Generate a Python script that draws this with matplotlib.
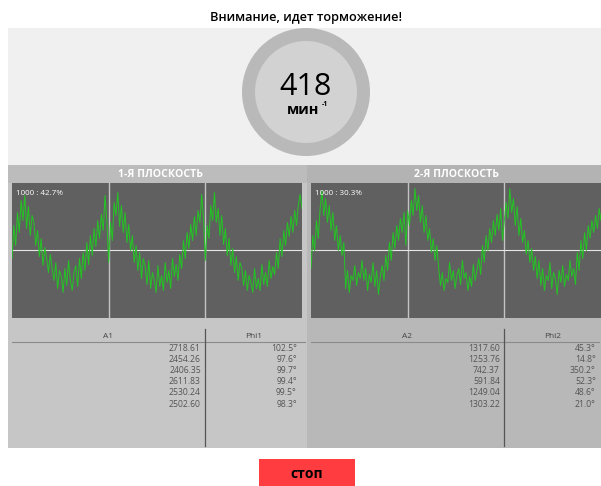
import matplotlib
matplotlib.use("Agg")
import matplotlib.pyplot as plt
from matplotlib.patches import Rectangle, Circle

plt.rcParams['font.family'] = ['Open Sans', 'DejaVu Sans']

W, H = 601, 486

title = "Внимание, идет торможение!"
speed = "418"
speed_unit = "мин"
plane_titles = ["1-Я ПЛОСКОСТЬ", "2-Я ПЛОСКОСТЬ"]
scale_labels = ["1000 : 42.7%", "1000 : 30.3%"]
col_amp = ["A1", "A2"]
col_phi = ["Phi1", "Phi2"]

amp1 = ["2718.61", "2454.26", "2406.35", "2611.83", "2530.24", "2502.60"]
phi1 = ["102.5°", "97.6°", "99.7°", "99.4°", "99.5°", "98.3°"]
amp2 = ["1317.60", "1253.76", "742.37", "591.84", "1249.04", "1303.22"]
phi2 = ["45.3°", "14.8°", "350.2°", "52.3°", "48.6°", "21.0°"]

# signal samples (pixel offset from centre line, up = +)
signal1 = [-8, 25, 5, 38, 18, 50, 30, 55, 22, 44, 15, 35, 28,
           5, 20, -6, 12, -15, 3, -8, -22, -4, -18,
           -30, -12, -38, -20, -26, -42, -18, -35, -10, -30, -40, -22, -15, -36, -8, -28,
           -2, -20, 8, -14, 15, -5, 22, 4, 30, 12, 36, 20,
           55, 30, -12,
           28, 10, 48, 35, 58, 24, 45, 18, 38, 8, 26,
           0, 15, -12, 5, -20, -2, -28, -8, -16, -34, -10,
           -38, -22, -30, -42, -15, -36, -25, -40, -12, -32, -20, -38, -8, -26, -14, -30,
           -4, -18, 10, -8, 18, 2, 26, 10, 34, 15, 40, 28,
           56, 32, -10,
           25, 12, 45, 30, 58, 28, 42, 15, 35, 6, 22,
           -5, 12, -15, 2, -22, -6, -30, -12, -18, -35, -20,
           -40, -25, -32, -42, -18, -38, -28, -40, -14, -34, -22, -36, -10, -28, -16, -24,
           -2, -18, 12, -6, 20, 5, 28, 14, 34, 18, 40, 25, 46, 56, 42]
signal2 = [-18, 15, 0, 30, 12, 42, 60, 35, 52, 28, 45, 20, 38,
           10, 25, 0, 15, -5, 8,
           -38, -20, -42, -25, -30, -15, -35, -22, -28, -10, -30, -18, -40, -24, -32, -12,
           -36, -20, -44, -26, -15, -30,
           -5, -20, 8, -10, 18, 2, 25, 10, 32, 18, 38,
           5, 40,
           25, 50, 35, 62, 40, 55, 28, 45, 18, 35, 10,
           22, -2, 12, -10, 5, -18,
           -35, -22, -40, -28, -32, -12, -30, -20, -38, -25, -18, -34, -10, -28, -22, -40,
           -26, -36, -14, -30, -20, -8,
           -24, 5, -12, 15, 0, 22, 8, 30, 15, 36, 20,
           42, 10,
           30, 48, 32, 62, 38, 52, 25, 44, 15, 32, 8,
           20, -4, 10, -12, 2, -20, -6, -28, -10,
           -35, -18, -40, -25, -30, -12, -38, -22, -28, -44, -20, -32, -15, -36, -24, -30,
           -10, -26, -18, -34,
           -2, -20, 10, -8, 18, 0, 25, 12, 30, 18, 35, 22, 42, 30]

fig = plt.figure(figsize=(W / 100, H / 100), dpi=100)
fig.patch.set_facecolor('white')
bg = fig.add_axes([0, 0, 1, 1])
bg.set_xlim(0, W)
bg.set_ylim(H, 0)
bg.axis('off')

# top panel with the speed gauge
bg.add_patch(Rectangle((8, 28), W - 8, 137, color='#f0f0f0', lw=0))
bg.text(306, 18, title, ha='center', va='center', fontsize=9.2,
        fontweight='semibold', color='black')

# plane panels
panels = [
    dict(x0=8, x1=307, cx0=12, cx1=302, head='#bcbcbc', body='#c6c6c6'),
    dict(x0=307, x1=W, cx0=311, cx1=W, head='#b3b3b3', body='#b8b8b8'),
]
for p in panels:
    bg.add_patch(Rectangle((p['x0'], 165), p['x1'] - p['x0'], 283, color=p['body'], lw=0))
    bg.add_patch(Rectangle((p['x0'], 165), p['x1'] - p['x0'], 18, color=p['head'], lw=0))

bg.add_patch(Circle((306, 92), 64, color='#b9b9b9', lw=0))
bg.add_patch(Circle((306, 92), 51, color='#d2d2d2', lw=0))
bg.text(306, 95, speed, ha='center', va='baseline', fontsize=22,
        fontweight='medium', color='black')
bg.text(303, 110, speed_unit, ha='center', va='center', fontsize=10.5, fontweight='bold')
bg.text(322, 104, "-1", ha='left', va='center', fontsize=5, fontweight='bold')

signals = [signal1, signal2]
amps = [amp1, amp2]
phis = [phi1, phi2]
for k, p in enumerate(panels):
    cmid = (p['x0'] + p['x1']) / 2
    bg.text(cmid + 3, 174, plane_titles[k], ha='center', va='center',
            fontsize=7.6, fontweight='bold', color='white')

    cx0, cx1 = p['cx0'], p['cx1']
    ax = fig.add_axes([cx0 / W, 1 - 318 / H, (cx1 - cx0) / W, 135 / H])
    ax.set_facecolor('#606060')
    for s in ax.spines.values():
        s.set_visible(False)
    ax.set_xticks([])
    ax.set_yticks([])
    n = len(signals[k])
    ax.set_xlim(0, n - 1)
    ax.set_ylim(-67.5, 67.5)
    xs = list(range(n))
    for frac in (1 / 3, 2 / 3):
        ax.axvline(frac * (n - 1), color='#c4c4c4', lw=1)
    ax.axhline(0, color='#e6e6e6', lw=0.8)
    ax.plot(xs, signals[k], color='#22c622', lw=0.7)
    ax.text(0.015, 0.92, scale_labels[k], transform=ax.transAxes, fontsize=5.8,
            color='white', ha='left', va='center')

    # table
    vline = cx0 + (cx1 - cx0) * 0.665
    bg.plot([cx0, p['x1'] - 2], [342, 342], color='#8a8a8a', lw=0.8)
    bg.plot([vline, vline], [329, 446], color='#555555', lw=0.9)
    bg.text((cx0 + vline) / 2, 336, col_amp[k], ha='center', va='center',
            fontsize=6, color='#444444')
    bg.text((vline + cx1) / 2, 336, col_phi[k], ha='center', va='center',
            fontsize=6, color='#444444')
    for i in range(len(amps[k])):
        yy = 348 + i * 11.2
        bg.text(vline - 4, yy, amps[k][i], ha='right', va='center',
                fontsize=6.2, color='#555555')
        bg.text(vline + 92, yy, phis[k][i], ha='right', va='center',
                fontsize=6.2, color='#555555')

# stop button
bg.add_patch(Rectangle((259, 459), 96, 30, color='#ff3c40', lw=0))
bg.text(307, 474, "стоп", ha='center', va='center', fontsize=10, fontweight='bold')

fig.savefig('out.png', dpi=100)
